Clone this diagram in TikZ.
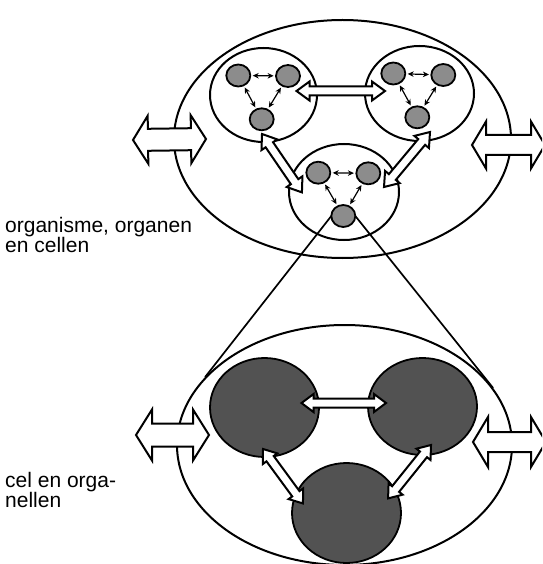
\documentclass[tikz,border=0pt]{standalone}
\usepackage{fontspec}
\setmainfont{Liberation Sans}
\usetikzlibrary{shapes.geometric,arrows.meta,calc}
\definecolor{smallfill}{gray}{0.55}
\definecolor{bigfill}{gray}{0.32}
\tikzset{
 outer/.style={draw, ellipse, line width=2pt, inner sep=0pt},
 cellgroup/.style={draw, ellipse, line width=2pt, inner sep=0pt},
 cellc/.style={draw, ellipse, fill=smallfill, line width=1.8pt, inner sep=0pt, minimum width=24pt, minimum height=22pt},
 organel/.style={draw, ellipse, fill=bigfill, line width=1.8pt, inner sep=0pt},
 smallarr/.style={{Stealth[length=6pt,width=5.5pt]}-{Stealth[length=6pt,width=5.5pt]}, line width=1.2pt, shorten <=1.5pt, shorten >=1.5pt},
 hollow/.style={draw, fill=white, line width=2pt, line join=miter},
 zoomline/.style={line width=1.7pt},
 lbl/.style={font=\fontsize{21}{20}\selectfont, inner sep=0pt, anchor=base west}
}
% start, end, shaft half width, head half width, head length
\newcommand\hollowarrow[5]{%
 \draw[hollow] let \p1=(#1), \p2=(#2), \n1={atan2(\y2-\y1,\x2-\x1)}, \n2={veclen(\x2-\x1,\y2-\y1)} in
  [shift={(\p1)}, rotate=\n1]
  (0pt,0pt) -- (#5pt,#4pt) -- (#5pt,#3pt) -- ({\n2*1pt-#5pt},#3pt) -- ({\n2*1pt-#5pt},#4pt)
  -- ({\n2*1pt},0pt) -- ({\n2*1pt-#5pt},-#4pt) -- ({\n2*1pt-#5pt},-#3pt) -- (#5pt,-#3pt) -- (#5pt,-#4pt) -- cycle;
}
\begin{document}
\begin{tikzpicture}[x=1pt,y=-1pt]
\useasboundingbox (0,0) rectangle (542,564);
\clip (0,0) rectangle (542,564);

% ---------- top: organism, organs, cells ----------
\node[outer, minimum width=337pt, minimum height=238pt] (TOP) at (342.5,139) {};
\node[outer, minimum width=335pt, minimum height=240pt] (BOT) at (344.5,445) {};

\node[cellgroup, minimum width=107pt, minimum height=94pt] (GL) at (263.5,95) {};
\node[cellgroup, minimum width=109pt, minimum height=95pt] (GR) at (419.5,93.5) {};
\node[cellgroup, minimum width=110pt, minimum height=96pt] (GB) at (344,192) {};

% zoom lines
\path (343.3,216) ++(-12,0) coordinate (zl) (343.3,216) ++(12,0) coordinate (zr);
\draw[zoomline] (zl) -- (BOT.154);
\draw[zoomline] (zr) -- (BOT.21.5);

\node[cellc] (a1) at (238.3,75.5) {};
\node[cellc] (a2) at (288,76) {};
\node[cellc] (a3) at (261.7,119.3) {};
\node[cellc] (b1) at (393.3,73.5) {};
\node[cellc] (b2) at (443.3,75) {};
\node[cellc] (b3) at (417.3,117.3) {};
\node[cellc] (c1) at (318.3,172.7) {};
\node[cellc] (c2) at (368.3,173.3) {};
\node[cellc] (c3) at (343.3,216) {};

\foreach \g in {a,b,c}{
  \draw[smallarr] (\g1) -- (\g2);
  \draw[smallarr] (\g1) -- (\g3);
  \draw[smallarr] (\g2) -- (\g3);
}

\coordinate (hA) at (296.5,91);  \coordinate (hB) at (385,91);
\coordinate (dlA) at (262,134);  \coordinate (dlB) at (302,192.5);
\coordinate (drA) at (430,132);  \coordinate (drB) at (384,187);
\coordinate (olA) at (133,140);  \coordinate (olB) at (206,139);
\coordinate (orA) at (472,145);  \coordinate (orB) at (545,145);
\hollowarrow{hA}{hB}{4.5}{9.5}{13}
\hollowarrow{dlA}{dlB}{4.5}{9.5}{13}
\hollowarrow{drA}{drB}{4.5}{9.5}{13}
\hollowarrow{olA}{olB}{11}{24}{15}
\hollowarrow{orA}{orB}{10}{23.5}{14}

% ---------- bottom: cell and organelles ----------
\node[organel, minimum width=109pt, minimum height=99pt] (OL) at (264.5,407.5) {};
\node[organel, minimum width=109pt, minimum height=97pt] (OR) at (422.5,406.5) {};
\node[organel, minimum width=109pt, minimum height=100pt] (OB) at (346.5,513) {};

\coordinate (bhA) at (301.5,403);  \coordinate (bhB) at (386,403);
\coordinate (bdlA) at (263,449);   \coordinate (bdlB) at (303,503.5);
\coordinate (bdrA) at (431,445);   \coordinate (bdrB) at (388,498.5);
\coordinate (oblA) at (136,435);   \coordinate (oblB) at (209,435);
\coordinate (obrA) at (473,442);   \coordinate (obrB) at (546,442);
\hollowarrow{bhA}{bhB}{4.5}{9}{12}
\hollowarrow{bdlA}{bdlB}{4.5}{9}{12}
\hollowarrow{bdrA}{bdrB}{4.5}{9}{12}
\hollowarrow{oblA}{oblB}{11.5}{25.5}{16}
\hollowarrow{obrA}{obrB}{10}{25}{15}

% ---------- labels ----------
\node[lbl] (t1) at (5,232) {organisme, organen};
\node[lbl] (t2) at (5,252) {en cellen};
\node[lbl] (t3) at (5,487) {cel en orga-};
\node[lbl] (t4) at (5,507) {nellen};
\end{tikzpicture}
\end{document}
